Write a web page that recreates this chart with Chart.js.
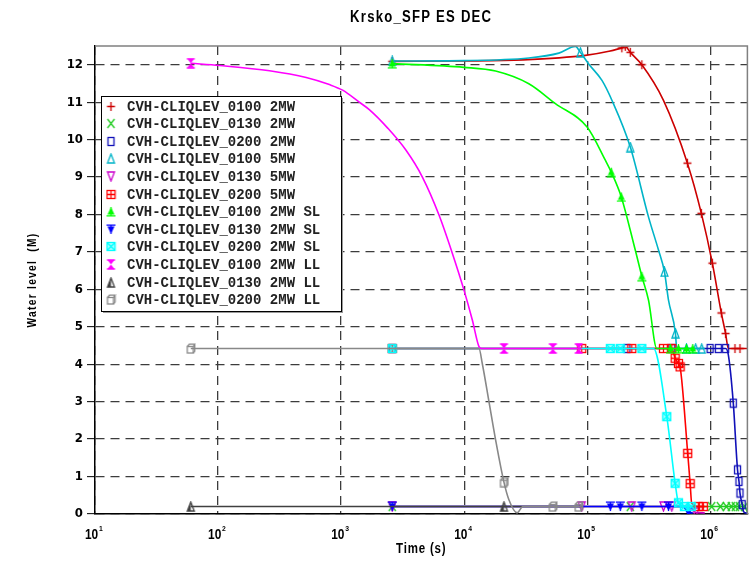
<!DOCTYPE html>
<html>
<head>
<meta charset="utf-8">
<title>Krsko_SFP ES DEC</title>
<script src="https://cdn.jsdelivr.net/npm/chart.js@4.4.1/dist/chart.umd.min.js"></script>
<style>
  html, body { margin: 0; padding: 0; background: #fff; }
  #wrap { width: 753px; height: 563px; }
</style>
</head>
<body>
<div id="wrap"><canvas id="grafico" width="753" height="563"></canvas></div>
<script>
// ======================================================
// 1. DADOS (tempo em s, nivel em m)
// ======================================================

// casos 2MW
const t0100_2MW = [2600, 9960, 30000, 96500, 150000, 191000, 203700, 223600, 277500, 416000, 651000, 845000, 1038000, 1228000, 1330000, 1400000, 1585000, 1741000, 2000000];
const n0100_2MW = [12.09, 12.1, 12.13, 12.25, 12.36, 12.45, 12.49, 12.33, 12.0, 11.05, 9.37, 8.03, 6.7, 5.37, 4.82, 4.42, 4.42, 4.42, 4.42];
const m0100_2MW = [0, 5, 6, 7, 8, 10, 11, 12, 13, 14, 16, 17];

const t0130_2MW = [2600, 223600, 1025000, 1205000, 1349000, 1480000, 1595000, 1718000, 1900000, 2000000];
const n0130_2MW = [0.2, 0.2, 0.2, 0.2, 0.2, 0.2, 0.2, 0.2, 0.2, 0.05];
const m0130_2MW = [0, 1, 2, 3, 4, 5, 6, 7, 8];

const t0200_2MW = [2600, 209900, 485700, 995000, 1161000, 1330000, 1400000, 1536000, 1663000, 1709000, 1741000, 1816000, 1862000, 2000000];
const n0200_2MW = [4.42, 4.42, 4.42, 4.42, 4.42, 4.42, 4.25, 2.96, 1.18, 0.87, 0.56, 0.25, 0.06, 0.02];
const m0200_2MW = [0, 1, 2, 3, 4, 5, 7, 8, 9, 10, 11];

// casos 5MW
const t0100_5MW = [2600, 9960, 33500, 58700, 80100, 87900, 102600, 131600, 158500, 223600, 314600, 379000, 423700, 457000, 520400, 533000, 640000, 760000, 851000, 900000];
const n0100_5MW = [12.1, 12.11, 12.18, 12.31, 12.49, 12.33, 12.02, 11.58, 11.05, 9.8, 7.93, 7.05, 6.47, 5.71, 4.83, 4.42, 4.42, 4.42, 4.42, 4.42];
const m0100_5MW = [0, 5, 9, 12, 14, 16, 17, 18];

const t0130_5MW = [2600, 90100, 230000, 416000, 485700, 690000, 760000, 900000];
const n0130_5MW = [0.2, 0.2, 0.2, 0.2, 0.2, 0.2, 0.04, 0.03];
const m0130_5MW = [0, 1, 2, 3, 4, 6];

const t0200_5MW = [2600, 90100, 230000, 416000, 485700, 517600, 550600, 568000, 654800, 685300, 705200, 799000, 877600, 900000];
const n0200_5MW = [4.42, 4.42, 4.42, 4.42, 4.42, 4.16, 4.02, 3.93, 1.62, 0.81, 0.29, 0.2, 0.2, 0.2];
const m0200_5MW = [0, 1, 2, 3, 4, 5, 6, 7, 8, 9, 11, 12];

// casos 2MW SL
const t0100_SL = [2600, 9960, 17990, 33500, 55100, 100000, 140200, 156700, 188900, 245400, 277500, 314600, 367200, 474000, 550600, 640000, 720000];
const n0100_SL = [12.03, 11.93, 11.83, 11.49, 10.96, 10.33, 9.45, 9.13, 8.47, 7.05, 6.35, 5.71, 4.42, 4.42, 4.42, 4.42, 4.42];
const m0100_SL = [0, 7, 8, 10, 13, 14, 15, 16];

const t0130_SL = [2600, 153900, 185500, 277500, 457000, 600000, 663500, 720000];
const n0130_SL = [0.2, 0.2, 0.2, 0.2, 0.2, 0.2, 0.04, 0.03];
const m0130_SL = [0, 1, 2, 3, 4, 6];

const t0200_SL = [2600, 153900, 185500, 277500, 345000, 442600, 517600, 550600, 615500, 700000];
const n0200_SL = [4.42, 4.42, 4.42, 4.42, 4.42, 2.6, 0.82, 0.3, 0.2, 0.2];
const m0200_SL = [0, 1, 2, 3, 5, 6, 7, 8, 9];

// casos 2MW LL
const t0100_LL = [60, 103, 262, 520, 802, 1028, 1404, 1693, 2400, 3357, 4573, 6250, 8015, 9960, 11640, 13180, 13800, 21030, 52480, 85160, 90000];
const n0100_LL = [12.04, 11.98, 11.84, 11.66, 11.47, 11.32, 11.0, 10.8, 10.3, 9.72, 9.0, 7.98, 6.96, 5.98, 5.18, 4.47, 4.42, 4.42, 4.42, 4.42, 4.42];
const m0100_LL = [0, 17, 18, 19];

const t0130_LL = [60, 21030, 90000];
const n0130_LL = [0.2, 0.2, 0.2];
const m0130_LL = [0, 1];

const t0200_LL = [60, 13180, 14020, 15890, 17990, 21030, 23070, 26920, 29980, 52480, 85160, 90000];
const n0200_LL = [4.42, 4.42, 4.02, 3.0, 1.98, 0.85, 0.38, 0.03, 0.2, 0.2, 0.2, 0.2];
const m0200_LL = [0, 5, 9, 10];

// eixos
const decadas = [1e1, 1e2, 1e3, 1e4, 1e5, 1e6];
const tempoMin = 10, tempoMax = 2e6;
const nivelMin = 0, nivelMax = 12.5;

const fonteSans = '"Liberation Sans", Arial, sans-serif';
const fonteEstreita = '"Liberation Sans Narrow", "Arial Narrow", "DejaVu Sans Condensed", sans-serif';
const fonteMono = '"Liberation Mono", "Courier New", "DejaVu Sans Mono", monospace';

// ======================================================
// 2. SIMBOLOS DOS PONTOS
// ======================================================

function marcador(tipo, cor) {
  const c = document.createElement('canvas');
  c.width = 11; c.height = 11;
  const g = c.getContext('2d');
  g.strokeStyle = cor; g.fillStyle = cor; g.lineWidth = 1.3;
  g.beginPath();
  switch (tipo) {
    case 'mais':
      g.moveTo(5.5, 1); g.lineTo(5.5, 10); g.moveTo(1.5, 5.5); g.lineTo(9.5, 5.5); g.stroke();
      break;
    case 'xis':
      g.moveTo(2, 1); g.lineTo(9, 10); g.moveTo(9, 1); g.lineTo(2, 10); g.stroke();
      break;
    case 'ret':
      g.strokeRect(2.5, 1.5, 6, 8);
      break;
    case 'tri':
      g.moveTo(5.5, 1); g.lineTo(9, 10); g.lineTo(2, 10); g.closePath(); g.stroke();
      break;
    case 'triBaixo':
      g.moveTo(2, 1); g.lineTo(9, 1); g.lineTo(5.5, 10); g.closePath(); g.stroke();
      break;
    case 'retMais':
      g.strokeRect(1.5, 1.5, 8, 8);
      g.moveTo(5.5, 1.5); g.lineTo(5.5, 9.5); g.moveTo(1.5, 5.5); g.lineTo(9.5, 5.5); g.stroke();
      break;
    case 'triCheio':
      g.moveTo(5.5, 1); g.lineTo(9, 8.5); g.lineTo(2, 8.5); g.closePath(); g.fill();
      g.beginPath(); g.moveTo(1, 9.8); g.lineTo(10, 9.8); g.moveTo(5.5, 1); g.lineTo(5.5, 10); g.stroke();
      break;
    case 'triBaixoCheio':
      g.moveTo(2, 2.5); g.lineTo(9, 2.5); g.lineTo(5.5, 10); g.closePath(); g.fill();
      g.beginPath(); g.moveTo(1, 1.2); g.lineTo(10, 1.2); g.moveTo(5.5, 1); g.lineTo(5.5, 10); g.stroke();
      break;
    case 'retXis':
      g.globalAlpha = 0.35; g.fillRect(1.5, 1.5, 8, 8); g.globalAlpha = 1;
      g.strokeRect(1.5, 1.5, 8, 8);
      g.moveTo(1.5, 1.5); g.lineTo(9.5, 9.5); g.moveTo(9.5, 1.5); g.lineTo(1.5, 9.5); g.stroke();
      break;
    case 'ampulheta':
      g.moveTo(2, 1); g.lineTo(9, 1); g.lineTo(5.5, 5.5); g.closePath();
      g.moveTo(2, 10); g.lineTo(9, 10); g.lineTo(5.5, 5.5); g.closePath(); g.fill();
      g.beginPath(); g.moveTo(1.5, 1); g.lineTo(9.5, 1); g.moveTo(1.5, 10); g.lineTo(9.5, 10); g.stroke();
      break;
    case 'triMeio':
      g.moveTo(5.5, 1); g.lineTo(5.5, 10); g.lineTo(2, 10); g.closePath(); g.fill();
      g.beginPath(); g.moveTo(5.5, 1); g.lineTo(9, 10); g.lineTo(2, 10); g.closePath(); g.stroke();
      break;
    case 'caixa':
      g.strokeRect(2, 3.5, 6, 6.5);
      g.moveTo(2, 3.5); g.lineTo(4, 1.2); g.lineTo(9.5, 1.2); g.lineTo(8, 3.5);
      g.moveTo(9.5, 1.2); g.lineTo(9.5, 8); g.lineTo(8, 10); g.stroke();
      break;
  }
  return c;
}

// ======================================================
// 3. SERIES
// ======================================================

const series = [
  ['CVH-CLIQLEV_0100 2MW',    t0100_2MW, n0100_2MW, m0100_2MW, '#cc0000', 'mais'],
  ['CVH-CLIQLEV_0130 2MW',    t0130_2MW, n0130_2MW, m0130_2MW, '#22cc22', 'xis'],
  ['CVH-CLIQLEV_0200 2MW',    t0200_2MW, n0200_2MW, m0200_2MW, '#1010b8', 'ret'],
  ['CVH-CLIQLEV_0100 5MW',    t0100_5MW, n0100_5MW, m0100_5MW, '#00b4c8', 'tri'],
  ['CVH-CLIQLEV_0130 5MW',    t0130_5MW, n0130_5MW, m0130_5MW, '#cc00cc', 'triBaixo'],
  ['CVH-CLIQLEV_0200 5MW',    t0200_5MW, n0200_5MW, m0200_5MW, '#ff0000', 'retMais'],
  ['CVH-CLIQLEV_0100 2MW SL', t0100_SL,  n0100_SL,  m0100_SL,  '#00ff00', 'triCheio'],
  ['CVH-CLIQLEV_0130 2MW SL', t0130_SL,  n0130_SL,  m0130_SL,  '#0000ff', 'triBaixoCheio'],
  ['CVH-CLIQLEV_0200 2MW SL', t0200_SL,  n0200_SL,  m0200_SL,  '#00ffff', 'retXis'],
  ['CVH-CLIQLEV_0100 2MW LL', t0100_LL,  n0100_LL,  m0100_LL,  '#ff00ff', 'ampulheta'],
  ['CVH-CLIQLEV_0130 2MW LL', t0130_LL,  n0130_LL,  m0130_LL,  '#404040', 'triMeio'],
  ['CVH-CLIQLEV_0200 2MW LL', t0200_LL,  n0200_LL,  m0200_LL,  '#888888', 'caixa']
];

const datasets = series.map(([nome, tempos, niveis, marcas, cor, tipo], i) => ({
  label: nome,
  data: tempos.map((t, k) => ({ x: t, y: niveis[k] })),
  borderColor: cor,
  backgroundColor: cor,
  borderWidth: 1.6,
  cubicInterpolationMode: 'monotone',
  pointStyle: marcador(tipo, cor),
  pointRadius: ctx => marcas.includes(ctx.dataIndex) ? 4 : 0,
  pointHoverRadius: 0,
  order: -i // as ultimas series ficam por cima
}));

// ======================================================
// 4. PLUGINS (titulos, moldura, rotulos do eixo x, legenda)
// ======================================================

// texto em negrito "estreitado" na horizontal
function textoEstreito(ctx, txt, x, y, tam, espaco, escala, alinhar) {
  ctx.save();
  ctx.translate(x, y);
  ctx.scale(escala, 1);
  ctx.font = `bold ${tam}px ${fonteSans}`;
  ctx.letterSpacing = espaco;
  ctx.textAlign = alinhar || 'center';
  ctx.fillText(txt, 0, 0);
  ctx.restore();
}

const textos = {
  id: 'textos',
  afterDraw(chart) {
    const ctx = chart.ctx;
    const area = chart.chartArea;
    const meioX = (area.left + area.right) / 2;
    ctx.save();
    ctx.fillStyle = '#000';
    ctx.textBaseline = 'middle';

    textoEstreito(ctx, 'Krsko_SFP ES DEC', meioX, 18, 16, '1.5px', 0.82);
    textoEstreito(ctx, 'Time (s)', meioX, 549, 14, '1px', 0.82);

    ctx.save();
    ctx.translate(33, (area.top + area.bottom) / 2);
    ctx.rotate(-Math.PI / 2);
    textoEstreito(ctx, 'Water level  (M)', 0, 0, 12, '1.5px', 0.85);
    ctx.restore();

    // rotulos 10^n do eixo x
    const escalaX = chart.scales.x;
    ctx.textBaseline = 'alphabetic';
    decadas.forEach(v => {
      const px = escalaX.getPixelForValue(v);
      const exp = String(Math.round(Math.log10(v)));
      const x0 = px - 10;
      textoEstreito(ctx, '10', x0, 539, 14, '0px', 0.85, 'left');
      textoEstreito(ctx, exp, x0 + 14, 531, 8, '0px', 0.85, 'left');
    });
    ctx.restore();
  }
};

const moldura = {
  id: 'moldura',
  afterDatasetsDraw(chart) {
    const ctx = chart.ctx;
    const a = chart.chartArea;
    ctx.save();
    ctx.strokeStyle = '#808080';
    ctx.lineWidth = 1.5;
    ctx.beginPath();
    ctx.moveTo(a.left, a.top);
    ctx.lineTo(a.right, a.top);
    ctx.lineTo(a.right, a.bottom);
    ctx.stroke();
    ctx.restore();
  }
};

const legendaCaixa = {
  id: 'legendaCaixa',
  afterDatasetsDraw(chart) {
    const ctx = chart.ctx;
    const x0 = 101, y0 = 96, w = 240, h = 215;
    ctx.save();
    ctx.fillStyle = '#9a9a9a';
    ctx.fillRect(x0 + 2, y0 + 2, w, h);
    ctx.fillStyle = '#fff';
    ctx.fillRect(x0, y0, w, h);
    ctx.strokeStyle = '#000';
    ctx.lineWidth = 1;
    ctx.strokeRect(x0 + 0.5, y0 + 0.5, w, h);

    ctx.font = `bold 14px ${fonteMono}`;
    ctx.fillStyle = '#222';
    ctx.textAlign = 'left';
    ctx.textBaseline = 'middle';
    chart.data.datasets.forEach((ds, i) => {
      const y = 106 + i * 17.6;
      const img = ds.pointStyle;
      ctx.drawImage(img, 111 - img.width / 2, Math.round(y - img.height / 2));
      ctx.fillText(ds.label, 127, y + 1);
    });
    ctx.restore();
  }
};

// ======================================================
// 5. GRAFICO
// ======================================================

new Chart(document.getElementById('grafico'), {
  type: 'line',
  data: { datasets: datasets },
  options: {
    responsive: false,
    animation: false,
    events: [],
    layout: { padding: { top: 46, right: 4, left: 0, bottom: 0 } },
    plugins: {
      legend: { display: false },
      tooltip: { enabled: false },
      title: { display: false }
    },
    scales: {
      x: {
        type: 'logarithmic',
        min: tempoMin,
        max: tempoMax,
        afterBuildTicks: scale => { scale.ticks = decadas.map(v => ({ value: v })); },
        afterFit: scale => { scale.height = 49; },
        ticks: { display: false },
        grid: { color: '#3c3c3c', lineWidth: 1.3, drawTicks: false },
        border: { color: '#000', width: 1.5, dash: [9, 6] }
      },
      y: {
        min: nivelMin,
        max: nivelMax,
        afterFit: scale => { scale.width = 95; },
        ticks: {
          stepSize: 1,
          includeBounds: false,
          padding: 4,
          color: '#000',
          font: { family: fonteEstreita, size: 13, weight: 'bold' }
        },
        grid: {
          color: '#3c3c3c', lineWidth: 1.3,
          tickLength: 8, tickColor: '#000', tickWidth: 1, tickBorderDash: []
        },
        border: { color: '#000', width: 1.5, dash: [9, 6] }
      }
    }
  },
  plugins: [moldura, legendaCaixa, textos]
});
</script>
</body>
</html>
